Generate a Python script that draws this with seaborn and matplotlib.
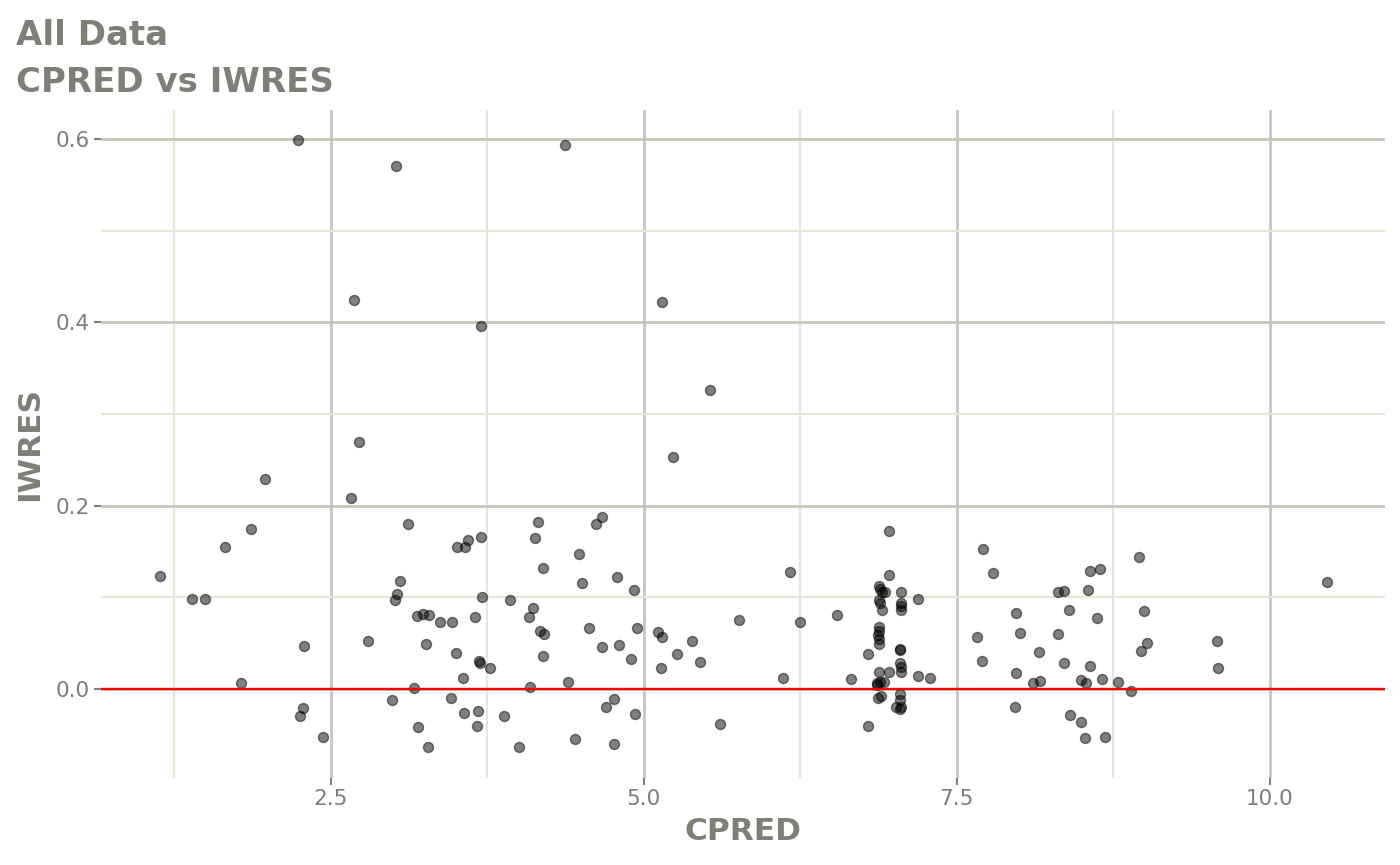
import matplotlib
matplotlib.use("Agg")
import matplotlib.pyplot as plt
import seaborn as sns
import pandas as pd
from matplotlib.ticker import MultipleLocator

cpred = [1.134, 1.390, 1.494, 1.653, 1.781, 1.861, 1.973, 2.236, 2.252, 2.276,
         2.284, 2.436, 2.660, 2.688, 2.725, 2.796, 2.987, 3.010, 3.027, 3.020,
         3.050, 3.115, 3.163, 3.187, 3.195, 3.235, 3.259, 3.275, 3.283, 3.371,
         3.458, 3.466, 3.498, 3.506, 3.554, 3.562, 3.570, 3.594, 3.650, 3.666,
         3.674, 3.686, 3.694, 3.698, 3.698, 3.706, 3.770, 3.882, 3.930, 4.002,
         4.081, 4.089, 4.113, 4.129, 4.153, 4.169, 4.193, 4.193, 4.201, 4.369,
         4.393, 4.449, 4.481, 4.505, 4.561, 4.617, 4.665, 4.665, 4.697, 4.760,
         4.760, 4.784, 4.800, 4.896, 4.920, 4.928, 4.944, 5.112, 5.136, 5.144,
         5.144, 5.232, 5.264, 5.383, 5.447, 5.527, 5.607, 5.759, 6.110, 6.166,
         6.246, 6.541, 6.657, 6.789, 6.789,
         6.957, 6.957, 6.877, 6.885, 6.901, 6.925, 6.877, 6.885, 6.901, 7.053,
         7.053, 7.053, 7.053, 7.189, 6.877, 6.877, 6.869, 6.877, 6.877, 7.045,
         7.050, 7.045, 7.053, 7.053, 6.877, 6.957, 7.189, 7.285, 6.861, 6.885,
         6.917, 6.861, 6.869, 6.893, 7.045, 7.045, 7.013, 7.045, 7.053,
         7.660, 7.700, 7.708, 7.788, 7.963, 7.971, 7.971, 8.003, 8.107, 8.155,
         8.163, 8.307, 8.307, 8.355, 8.355, 8.395, 8.403, 8.490, 8.490, 8.522,
         8.530, 8.546, 8.562, 8.562, 8.618, 8.642, 8.658, 8.682, 8.786, 8.890,
         8.954, 8.970, 8.994, 9.018, 9.577, 9.585, 10.455]

iwres = [0.123, 0.098, 0.098, 0.155, 0.006, 0.174, 0.229, 0.599, -0.029, -0.021,
         0.047, -0.052, 0.208, 0.424, 0.269, 0.052, -0.012, 0.097, 0.104, 0.570,
         0.118, 0.180, 0.001, 0.080, -0.041, 0.082, 0.049, -0.063, 0.081, 0.073,
         -0.010, 0.073, 0.039, 0.155, 0.012, -0.026, 0.155, 0.162, 0.079, -0.040,
         -0.024, 0.030, 0.028, 0.166, 0.396, 0.100, 0.023, -0.029, 0.097, -0.063,
         0.079, 0.002, 0.088, 0.165, 0.182, 0.063, 0.036, 0.132, 0.060, 0.593,
         0.008, -0.055, 0.147, 0.116, 0.067, 0.180, 0.187, 0.046, -0.020, -0.011,
         -0.060, 0.122, 0.048, 0.033, 0.108, -0.027, 0.067, 0.062, 0.023, 0.057,
         0.422, 0.253, 0.038, 0.052, 0.029, 0.326, -0.038, 0.075, 0.012, 0.128,
         0.073, 0.081, 0.011, -0.040, 0.038,
         0.172, 0.124, 0.112, 0.109, 0.106, 0.106, 0.097, 0.094, 0.086, 0.106,
         0.094, 0.090, 0.086, 0.098, 0.068, 0.063, 0.059, 0.055, 0.049, 0.044,
         0.043, 0.028, 0.024, 0.019, 0.019, 0.019, 0.014, 0.012, 0.007, 0.008,
         0.008, 0.004, -0.010, -0.008, -0.005, -0.012, -0.020, -0.022, -0.020,
         0.057, 0.031, 0.153, 0.126, -0.020, 0.083, 0.017, 0.061, 0.006, 0.040,
         0.009, 0.106, 0.060, 0.107, 0.028, 0.086, -0.028, 0.010, -0.036, -0.053,
         0.007, 0.108, 0.129, 0.025, 0.077, 0.131, 0.011, -0.052, 0.008, -0.002,
         0.144, 0.041, 0.085, 0.050, 0.052, 0.023, 0.117]

title_lines = ["All Data", "CPRED vs IWRES"]
x_label = "CPRED"
y_label = "IWRES"
x_ticks = [2.5, 5.0, 7.5, 10.0]
y_ticks = [0.0, 0.2, 0.4, 0.6]
ref_line = 0.0

df = pd.DataFrame({"CPRED": cpred, "IWRES": iwres})

sns.set_theme(style="white")
plt.rcParams['font.family'] = ['DejaVu Sans']

text_col = "#7f7f77"
major_col = "#c6c6ba"
minor_col = "#e7e7d8"

fig = plt.figure(figsize=(14, 8.65), dpi=100)
ax = fig.add_axes([0.072, 0.1006, 0.917, 0.7724])

sns.scatterplot(data=df, x="CPRED", y="IWRES", ax=ax, color="black",
                alpha=0.5, s=52, edgecolor="black", linewidth=1.0, zorder=3)
ax.axhline(ref_line, color="#ff0000", lw=1.7, zorder=4)

ax.set_xlim(0.663, 10.919)
ax.set_ylim(-0.0971, 0.6316)
ax.set_xticks(x_ticks)
ax.set_yticks(y_ticks)
ax.set_xticklabels([f"{t:.1f}" for t in x_ticks])
ax.set_yticklabels([f"{t:.1f}" for t in y_ticks])
ax.xaxis.set_minor_locator(MultipleLocator(1.25))
ax.yaxis.set_minor_locator(MultipleLocator(0.1))

ax.grid(which="major", color=major_col, lw=2.0, zorder=0)
ax.grid(which="minor", color=minor_col, lw=1.6, zorder=0)
ax.set_axisbelow(True)
for sp in ax.spines.values():
    sp.set_visible(False)

ax.tick_params(axis="both", which="major", length=5, width=1.5, color="#7f7f7f",
               labelsize=15.5, labelcolor=text_col, pad=3, bottom=True, left=True)
ax.tick_params(axis="both", which="minor", length=0)

ax.set_xlabel(x_label, fontsize=22.5, fontweight="bold", color=text_col, labelpad=6)
ax.set_ylabel(y_label, fontsize=22.5, fontweight="bold", color=text_col, labelpad=8)

fig.text(16/1400, 1 - 45/865, title_lines[0], fontsize=24.5, fontweight="bold",
         color=text_col, va="baseline", ha="left")
fig.text(16/1400, 1 - 92/865, title_lines[1], fontsize=24.5, fontweight="bold",
         color=text_col, va="baseline", ha="left")

fig.savefig("out.png", dpi=100, facecolor="white")
